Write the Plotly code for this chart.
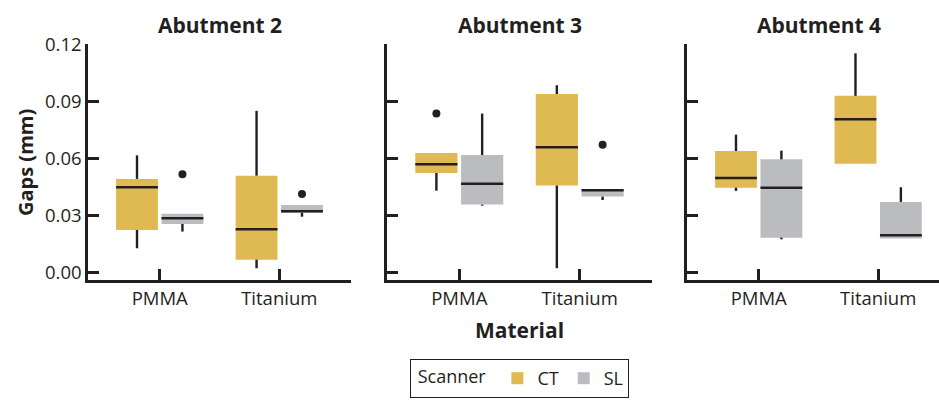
import plotly.graph_objects as go

# ---- data ----
panels = ["Abutment 2", "Abutment 3", "Abutment 4"]
materials = ["PMMA", "Titanium"]
scanners = ["CT", "SL"]

# per panel, per scanner: values for [PMMA, Titanium]
ct_q1 = [[0.0226, 0.0070], [0.0526, 0.0460], [0.0449, 0.0575]]
ct_med = [[0.0451, 0.0230], [0.0572, 0.0661], [0.0500, 0.0809]]
ct_q3 = [[0.0495, 0.0512], [0.0632, 0.0942], [0.0642, 0.0932]]
ct_lo = [[0.0130, 0.0025], [0.0433, 0.0025], [0.0432, 0.0575]]
ct_hi = [[0.0619, 0.0853], [0.0632, 0.0988], [0.0728, 0.1156]]
ct_out = [[[], []], [[0.0839], []], [[], []]]

sl_q1 = [[0.0258, 0.0317], [0.0360, 0.0402], [0.0186, 0.0181]]
sl_med = [[0.0288, 0.0325], [0.0470, 0.0435], [0.0449, 0.0198]]
sl_q3 = [[0.0311, 0.0358], [0.0621, 0.0442], [0.0598, 0.0374]]
sl_lo = [[0.0218, 0.0296], [0.0354, 0.0384], [0.0177, 0.0181]]
sl_hi = [[0.0311, 0.0358], [0.0839, 0.0442], [0.0644, 0.0451]]
sl_out = [[[0.0519], [0.0416]], [[], [0.0675]], [[], []]]

y_ticks = [0.00, 0.03, 0.06, 0.09, 0.12]
y_ticktext = ["0.00", "0.03", "0.06", "0.09", "0.12"]

# ---- style ----
COL = {"CT": "#DFB951", "SL": "#BBBCBF"}
INK = "#231F20"
FONT = "Open Sans"
W = 939.0
H = 400.0
dom_px = [(88, 351), (387, 652), (687, 939)]
xr = [[-0.6, 1.6], [-0.6, 1.6], [-0.6, 1.509]]
OFF = {"CT": -0.19, "SL": 0.19}
BW = 0.35

fig = go.Figure()

stats = {
    "CT": (ct_q1, ct_med, ct_q3, ct_lo, ct_hi, ct_out),
    "SL": (sl_q1, sl_med, sl_q3, sl_lo, sl_hi, sl_out),
}

for p in range(3):
    xa = "x" if p == 0 else f"x{p+1}"
    ya = "y" if p == 0 else f"y{p+1}"
    for s in scanners:
        q1, med, q3, lo, hi, out = stats[s]
        xs = [i + OFF[s] for i in range(len(materials))]
        # whiskers
        wx, wy = [], []
        for i, x in enumerate(xs):
            wx += [x, x, None, x, x, None]
            wy += [q3[p][i], hi[p][i], None, lo[p][i], q1[p][i], None]
        fig.add_trace(go.Scatter(x=wx, y=wy, mode="lines", xaxis=xa, yaxis=ya,
                                 line=dict(color=INK, width=2.4), showlegend=False,
                                 hoverinfo="skip"))
        # boxes
        fig.add_trace(go.Bar(x=xs, y=[q3[p][i] - q1[p][i] for i in range(2)],
                             base=[q1[p][i] for i in range(2)], width=BW,
                             marker=dict(color=COL[s], line=dict(width=0)),
                             xaxis=xa, yaxis=ya, name=s,
                             showlegend=(p == 0), legendgroup=s))
        # medians
        mx, my = [], []
        for i, x in enumerate(xs):
            mx += [x - BW / 2, x + BW / 2, None]
            my += [med[p][i], med[p][i], None]
        fig.add_trace(go.Scatter(x=mx, y=my, mode="lines", xaxis=xa, yaxis=ya,
                                 line=dict(color=INK, width=2.5), showlegend=False,
                                 hoverinfo="skip"))
        # outliers
        ox, oy = [], []
        for i, x in enumerate(xs):
            for v in out[p][i]:
                ox.append(x)
                oy.append(v)
        if ox:
            fig.add_trace(go.Scatter(x=ox, y=oy, mode="markers", xaxis=xa, yaxis=ya,
                                     marker=dict(color=INK, size=8), showlegend=False))

axis_common = dict(showline=True, linewidth=2.5, linecolor=INK, ticks="inside",
                   ticklen=11, tickwidth=2.5, tickcolor=INK, showgrid=False,
                   zeroline=False, tickfont=dict(family=FONT, size=18.5, color=INK))

layout = dict(
    width=939, height=400,
    margin=dict(l=0, r=0, t=0, b=0, autoexpand=False),
    plot_bgcolor="white", paper_bgcolor="white",
    barmode="overlay",
    font=dict(family=FONT, color=INK),
)
for p in range(3):
    xk = "xaxis" if p == 0 else f"xaxis{p+1}"
    yk = "yaxis" if p == 0 else f"yaxis{p+1}"
    layout[xk] = dict(axis_common, domain=[dom_px[p][0] / W, dom_px[p][1] / W],
                      range=xr[p], tickvals=[0, 1], ticktext=materials,
                      anchor="y" if p == 0 else f"y{p+1}")
    layout[yk] = dict(axis_common, domain=[1 - 280 / H, 1 - 44 / H],
                      range=[-0.0037, 0.1205], tickvals=y_ticks, ticktext=y_ticktext,
                      showticklabels=(p == 0),
                      anchor="x" if p == 0 else f"x{p+1}")
fig.update_layout(**layout)

# panel titles
centers = [219.5, 519.5, 819]
for p in range(3):
    fig.add_annotation(text=f"<b>{panels[p]}</b>", x=centers[p] / W, y=1 - 25 / H,
                       xref="paper", yref="paper", showarrow=False,
                       xanchor="center", yanchor="middle",
                       font=dict(family=FONT, size=21, color=INK))
fig.add_annotation(text="<b>Gaps (mm)</b>", x=25 / W, y=1 - 163 / H, textangle=-90,
                   xref="paper", yref="paper", showarrow=False,
                   xanchor="center", yanchor="middle",
                   font=dict(family=FONT, size=20, color=INK))
fig.add_annotation(text="<b>Material</b>", x=519.5 / W, y=1 - 330 / H,
                   xref="paper", yref="paper", showarrow=False,
                   xanchor="center", yanchor="middle",
                   font=dict(family=FONT, size=21, color=INK))

fig.update_layout(legend=dict(
    title=dict(text="&nbsp;Scanner ", font=dict(family=FONT, size=18, color=INK)),
    orientation="h", x=519.5 / W, xanchor="center", y=1 - 359 / H, yanchor="top",
    bordercolor=INK, borderwidth=1, font=dict(family=FONT, size=18, color=INK),
    bgcolor="white", valign="middle"))

fig.write_html("out.html", config={"displayModeBar": False},
               post_script="document.body.style.margin='0';document.body.style.padding='0';")
